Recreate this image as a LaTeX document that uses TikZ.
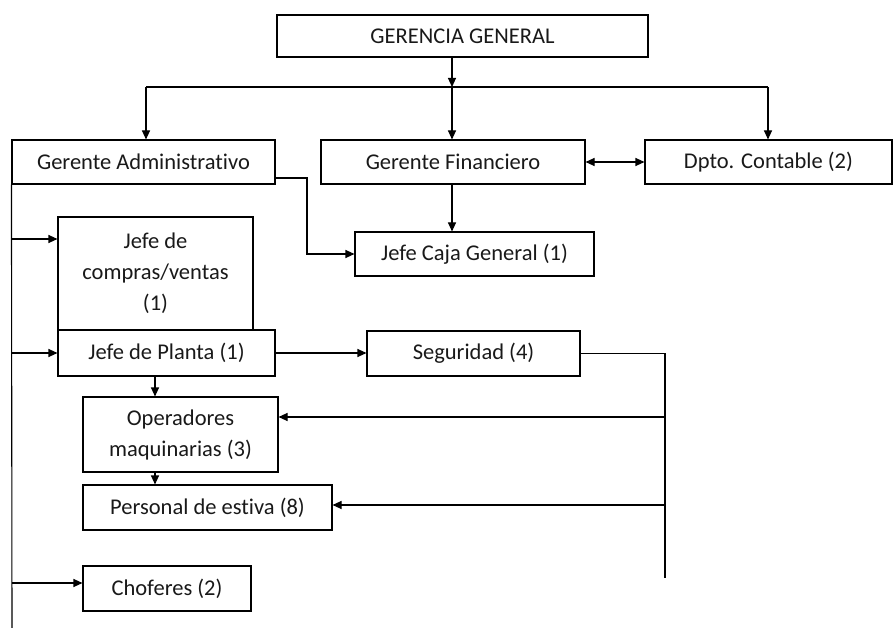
\documentclass[tikz,border=0pt]{standalone}
\usepackage{fontspec}
\setmainfont[Ligatures={NoCommon}]{Carlito}
\usetikzlibrary{arrows.meta,calc}
\begin{document}
\begin{tikzpicture}[x=1pt,y=-1pt,
  box/.style={draw=black,line width=1.1pt,inner sep=0pt,align=center,font=\fontsize{22.5}{31}\selectfont,text=black!90},
  ln/.style={draw=black,line width=1.1pt},
  arr/.style={ln,-{Triangle[length=9pt,width=8pt]}},
  darr/.style={ln,{Triangle[length=9pt,width=8pt]}-{Triangle[length=9pt,width=8pt]}}]
\useasboundingbox (0,0) rectangle (894,628);
\node[box,minimum width=371pt,minimum height=42pt] (GG) at (462.5,36) {GERENCIA GENERAL};
\node[box,minimum width=263pt,minimum height=44pt] (GA) at (143.5,162) {Gerente Administrativo};
\node[box,minimum width=264pt,minimum height=44pt] (GF) at (453,162) {Gerente Financiero};
\node[box,minimum width=247pt,minimum height=44pt] (DC) at (768.5,162) {Dpto. Contable (2)};
\node[box,minimum width=239pt,minimum height=44pt] (JC) at (474.5,254) {Jefe Caja General (1)};
\node[box,minimum width=195pt,minimum height=113pt] (JCV) at (155.5,273.5) {Jefe de\\compras/ventas\\(1)};
\node[box,minimum width=217pt,minimum height=46pt] (JP) at (166.5,353) {Jefe de Planta (1)};
\node[box,minimum width=213pt,minimum height=45pt] (SEG) at (473.5,353.5) {Seguridad (4)};
\node[box,minimum width=195pt,minimum height=75pt] (OP) at (180.5,434.5) {Operadores\\maquinarias (3)};
\node[box,minimum width=249pt,minimum height=45pt] (PE) at (207.5,507.5) {Personal de estiva (8)};
\node[box,minimum width=168pt,minimum height=45pt] (CH) at (167,588.5) {Choferes (2)};
% top bus
\coordinate (bus) at (452,87);
\coordinate (busL) at (146,87);
\coordinate (busR) at (768,87);
\draw[arr] (GG.south -| bus) -- (bus);
\draw[ln] (busL) -- (busR);
\draw[arr] (busL) -- (busL |- GA.north);
\draw[arr] (bus) -- (bus |- GF.north);
\draw[arr] (busR) -- (busR |- DC.north);
\draw[darr] (GF.east) -- (DC.west);
% Gerente Administrativo to Jefe Caja
\coordinate (ga1) at (275,178);
\coordinate (ga2) at (307,178);
\draw[arr] (ga1) -- (ga2) |- (JC.west);
\draw[arr] (GF.south -| bus) -- (bus |- JC.north);
% left trunk
\coordinate (trTop) at (GA.south west);
\coordinate (trBot) at (12,628);
\draw[ln] (trTop) -- (trBot);
\coordinate (t1) at (12,239);
\draw[arr] (t1) -- (t1 -| JCV.west);
\draw[arr] (trTop |- JP.west) -- (JP.west);
\coordinate (t3) at (12,583);
\draw[arr] (t3) -- (t3 -| CH.west);
% planta
\draw[arr] (JP.east) -- (JP.east -| SEG.west);
\coordinate (s1) at (665,353);
\coordinate (s2) at (665,578);
\draw[ln] (s1 |- SEG.east) -- (SEG.east);
\draw[ln] (665,353) -- (s2);
\coordinate (o1) at (665,417);
\draw[arr] (o1) -- (o1 -| OP.east);
\coordinate (p1) at (665,505);
\draw[arr] (p1) -- (p1 -| PE.east);
\coordinate (v) at (155,0);
\draw[arr] (v |- JP.south) -- (v |- OP.north);
\draw[arr] (v |- OP.south) -- (v |- PE.north);
\end{tikzpicture}
\end{document}
